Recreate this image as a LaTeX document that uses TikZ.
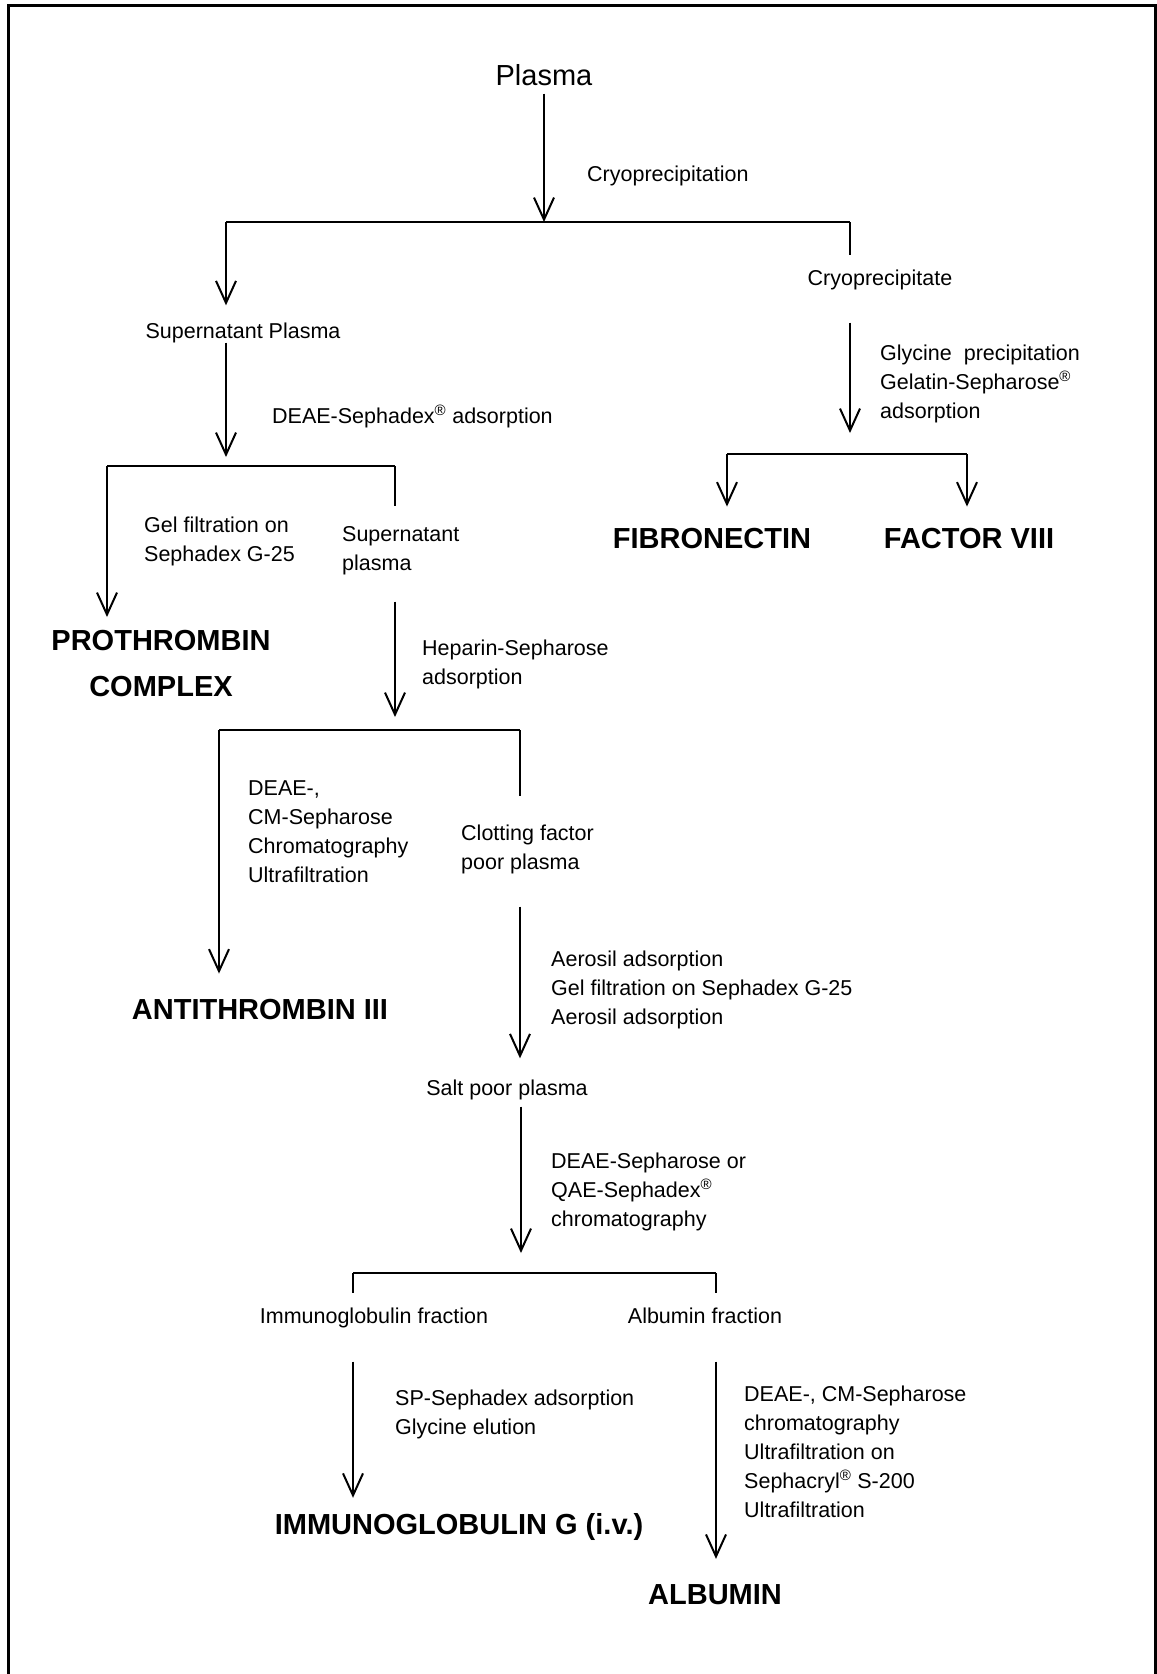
\documentclass[tikz,border=0pt]{standalone}
\usepackage{fontspec}
\setmainfont{Liberation Sans}
\usepackage{tikz}
\usetikzlibrary{positioning, arrows.meta, calc}

\begin{document}
\begin{tikzpicture}[x=1pt, y=-1pt,
    every node/.style={inner sep=0pt},
    prod/.style={anchor=base, text height=0.75em, text depth=0.25em, font=\fontsize{21.5}{29}\selectfont},
    final/.style={anchor=base, font=\fontsize{29}{46}\selectfont\bfseries},
    proc/.style={anchor=base west, align=left, font=\fontsize{21.5}{29}\selectfont},
    arr/.style={line width=2pt, -{Straight Barb[length=22pt, width=20pt]}},
    tick/.style={line width=2pt},
    bar/.style={line width=2.5pt}]
    \useasboundingbox (0,0) rectangle (1157,1674);
    % Frame
    \draw[line width=2.5pt] (8.5,1674) -- (8.5,5.5) -- (1155.5,5.5) -- (1155.5,1674);

    % Intermediate products
    \node[prod, font=\fontsize{29}{35}\selectfont] (plasma) at (544,85) {Plasma};
    \node[prod] (cryo) at (880,285) {Cryoprecipitate};
    \node[prod] (supp) at (243,338) {Supernatant Plasma};
    \node[proc] (supp2) at (342,570) {Supernatant\\plasma};
    \node[proc] (clot) at (461,869) {Clotting factor\\poor plasma};
    \node[prod] (salt) at (507,1095) {Salt poor plasma};
    \node[prod] (igf) at (374,1323) {Immunoglobulin fraction};
    \node[prod] (alf) at (705,1323) {Albumin fraction};

    % Final products
    \node[final, anchor=north, align=center] (prothr) at (161,630) {PROTHROMBIN\\COMPLEX};
    \node[final] (fibro) at (712,548) {FIBRONECTIN};
    \node[final] (factor) at (969,548) {FACTOR VIII};
    \node[final] (antith) at (260,1019) {ANTITHROMBIN III};
    \node[final] (igg) at (459,1534) {IMMUNOGLOBULIN G (i.v.)};
    \node[final] (alb) at (715,1604) {ALBUMIN};

    % Process steps (anchored at the last line)
    \node[proc] (cryoprec) at (587,181) {Cryoprecipitation};
    \node[proc] (deaesx) at (272,423) {DEAE-Sephadex\textsuperscript{®} adsorption};
    \node[proc] (glyprec) at (880,418) {Glycine\ \ precipitation\\Gelatin-Sepharose\textsuperscript{®}\\adsorption};
    \node[proc] (gelfilt) at (144,561) {Gel filtration on\\Sephadex G-25};
    \node[proc] (hepsep) at (422,684) {Heparin-Sepharose\\adsorption};
    \node[proc] (deaecm) at (248,882) {DEAE-,\\CM-Sepharose\\Chromatography\\Ultrafiltration};
    \node[proc] (aerosil) at (551,1024) {Aerosil adsorption\\Gel filtration on Sephadex G-25\\Aerosil adsorption};
    \node[proc] (qaesx) at (551,1226) {DEAE-Sepharose or\\QAE-Sephadex\textsuperscript{®}\\chromatography};
    \node[proc] (spsx) at (395,1434) {SP-Sephadex adsorption\\Glycine elution};
    \node[proc] (sephacryl) at (744,1517) {DEAE-, CM-Sepharose\\chromatography\\Ultrafiltration on\\Sephacryl\textsuperscript{®} S-200\\Ultrafiltration};

    % Branch points
    \coordinate (b1) at (544,222);
    \coordinate (b1l) at (226,222);
    \coordinate (b1r) at (850,222);
    \coordinate (t2) at (226,457);
    \coordinate (b2l) at (107,466);
    \coordinate (b2r) at (395,466);
    \coordinate (t3) at (850,433);
    \coordinate (b3l) at (727,454);
    \coordinate (b3r) at (967,454);
    \coordinate (t4) at (395,717);
    \coordinate (b4l) at (219,730);
    \coordinate (b4r) at (520,730);
    \coordinate (t6) at (521,1253);
    \coordinate (b5l) at (353,1273);
    \coordinate (b5r) at (716,1273);

    % Bars
    \draw[bar] (b1l) -- (b1r);
    \draw[bar] (b2l) -- (b2r);
    \draw[bar] (b3l) -- (b3r);
    \draw[bar] (b4l) -- (b4r);
    \draw[bar] (b5l) -- (b5r);

    % Arrows
    \draw[arr, shorten <=6pt] (plasma) -- (b1);
    \draw[arr, shorten >=25pt] (b1l) -- (b1l |- supp.north);
    \draw[tick, shorten >=22pt] (b1r) -- (b1r |- cryo.north);
    \draw[arr, shorten <=2pt] (t2 |- supp.south) -- (t2);
    \draw[arr, shorten <=35pt] (t3 |- cryo.south) -- (t3);
    \draw[arr, shorten >=13pt] (b2l) -- (b2l |- prothr.north);
    \draw[tick, shorten >=20pt] (b2r) -- (b2r |- supp2.north);
    \draw[arr, shorten >=21pt] (b3l) -- (b3l |- fibro.north);
    \draw[arr, shorten >=21pt] (b3r) -- (b3r |- factor.north);
    \draw[arr, shorten <=27pt] (t4 |- supp2.south) -- (t4);
    \draw[arr, shorten >=25pt] (b4l) -- (b4l |- antith.north);
    \draw[tick, shorten >=28pt] (b4r) -- (b4r |- clot.north);
    \draw[arr, shorten <=33pt, shorten >=29pt] (b4r |- clot.south) -- (b4r |- salt.north);
    \draw[arr, shorten <=9pt] (t6 |- salt.south) -- (t6);
    \draw[tick, shorten >=22pt] (b5l) -- (b5l |- igf.north);
    \draw[tick, shorten >=22pt] (b5r) -- (b5r |- alf.north);
    \draw[arr, shorten <=36pt, shorten >=15pt] (b5l |- igf.south) -- (b5l |- igg.north);
    \draw[arr, shorten <=36pt, shorten >=25pt] (b5r |- alf.south) -- (b5r |- alb.north);
\end{tikzpicture}
\end{document}
